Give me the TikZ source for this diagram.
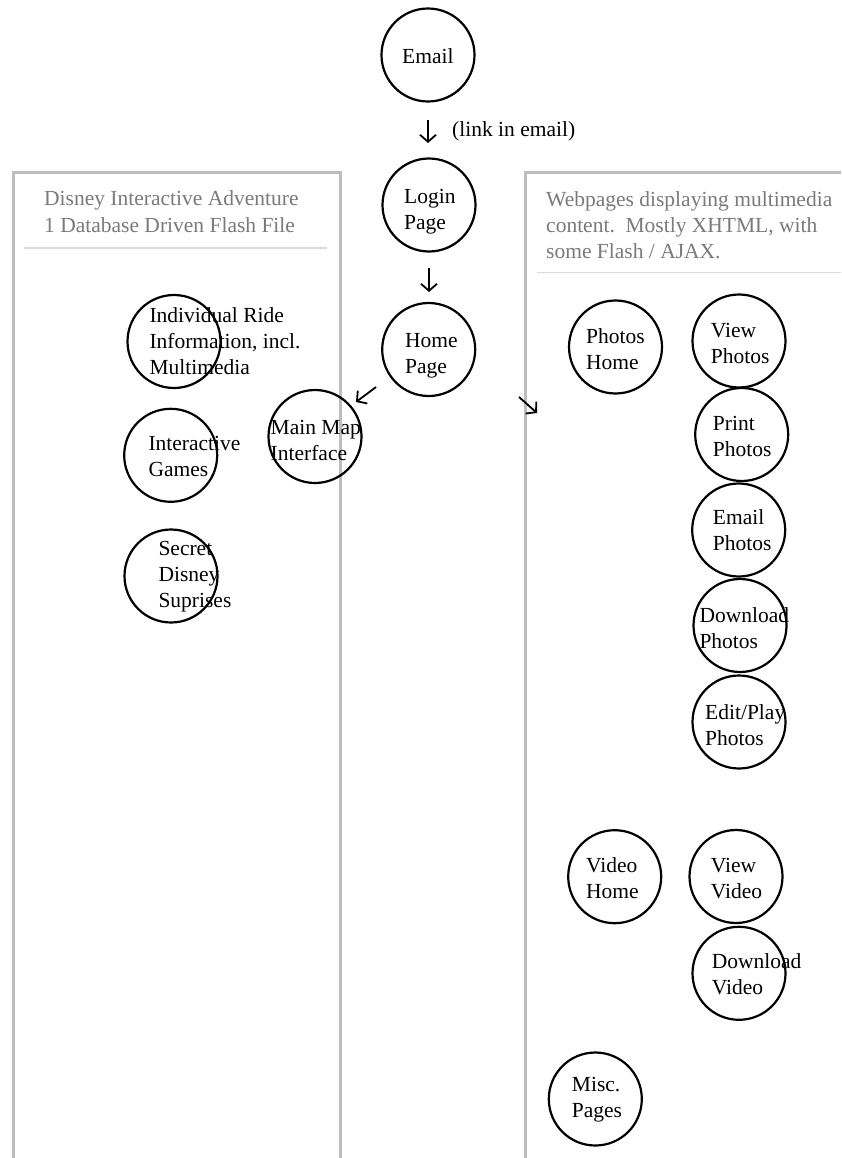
\documentclass[tikz,border=0pt]{standalone}
\usepackage{fontspec}
\setmainfont{Liberation Serif}
\usetikzlibrary{arrows.meta}
\definecolor{titlegray}{HTML}{7A7A7A}
\definecolor{panelgray}{HTML}{BDBDBD}
\definecolor{divgray}{HTML}{DCDCDC}
\tikzset{
  bubble/.style={draw, line width=2.2pt, circle, minimum size=93pt, inner sep=0pt},
  lbl/.style={anchor=base west, align=left, inner sep=0pt, font=\fontsize{21.5}{26.2}\selectfont},
  paneltitle/.style={lbl, text=titlegray},
  panel/.style={draw=panelgray, line width=2.7pt},
  divider/.style={draw=divgray, line width=1.6pt},
  flow/.style={line width=1.8pt, -{Straight Barb[length=7pt,width=16pt]}}
}
\begin{document}
\begin{tikzpicture}[x=1pt,y=-1pt]
\useasboundingbox (0,0) rectangle (841,1158);
\clip (0,0) rectangle (841,1158);
\fill[white] (0,0) rectangle (841,1158);

% panels
\draw[panel] (13.5,1170) -- (13.5,172.5) -- (340.7,172.5) -- (340.7,1170);
\draw[panel] (525.5,1170) -- (525.5,172.5) -- (850,172.5);
\draw[divider] (24,248) -- (327,248);
\draw[divider] (537,272.5) -- (850,272.5);

% (anchor = baseline of the last line)
\node[paneltitle] (ltitle) at (44,232.2) {Disney Interactive Adventure\\1 Database Driven Flash File};
\node[paneltitle] (rtitle) at (546,258.4) {Webpages displaying multimedia\\content.\ \ Mostly XHTML, with\\some Flash / AJAX.};

% central flow
\node[bubble] (email) at (428,55) {};
\node[lbl] (emailT) at (402,64) {Email};
\node[bubble] (login) at (429,205) {};
\node[lbl] (loginT) at (404,229.2) {Login\\Page};
\node[bubble] (home) at (428.7,349.5) {};
\node[lbl] (homeT) at (405,373.2) {Home\\Page};

\coordinate (a1s) at (428,120);
\coordinate (a1e) at (428,143);
\draw[flow] (a1s) -- (a1e);
\node[lbl] (linkT) at (452,137) {(link in email)};
\coordinate (a2s) at (429,268);
\coordinate (a2e) at (429,292);
\draw[flow] (a2s) -- (a2e);
\coordinate (a3s) at (376,387);
\coordinate (a3e) at (356,402);
\draw[flow] (a3s) -- (a3e);
\coordinate (a4s) at (519,397);
\coordinate (a4e) at (537,413);
\draw[flow] (a4s) -- (a4e);

% left panel
\node[bubble] (ride) at (174,341.5) {};
\node[lbl] (rideT) at (149.3,374.4) {Individual Ride\\Information, incl.\\Multimedia};
\node[bubble] (games) at (170.7,455.3) {};
\node[lbl] (gamesT) at (148.3,476.2) {Interactive\\Games};
\node[bubble] (secret) at (171,576) {};
\node[lbl] (secretT) at (158.3,607.4) {Secret\\Disney\\Suprises};
\node[bubble] (map) at (315,436.5) {};
\node[lbl] (mapT) at (270.5,460.5) {Main Map\\Interface};

% right panel
\node[bubble] (phome) at (615.5,347) {};
\node[lbl] (phomeT) at (586,369.2) {Photos\\Home};
\node[bubble] (pview) at (739,341) {};
\node[lbl] (pviewT) at (710.7,363.2) {View\\Photos};
\node[bubble] (pprint) at (741.7,434.5) {};
\node[lbl] (pprintT) at (712.7,456.2) {Print\\Photos};
\node[bubble] (pemail) at (738.7,530) {};
\node[lbl] (pemailT) at (712.7,550.2) {Email\\Photos};
\node[bubble] (pdown) at (740,625.5) {};
\node[lbl] (pdownT) at (699.3,648.2) {Download\\Photos};
\node[bubble] (pedit) at (739,722) {};
\node[lbl] (peditT) at (705,745.2) {Edit/Play\\Photos};
\node[bubble] (vhome) at (614.7,876.7) {};
\node[lbl] (vhomeT) at (586,898.2) {Video\\Home};
\node[bubble] (vview) at (736,876.5) {};
\node[lbl] (vviewT) at (710.7,898.2) {View\\Video};
\node[bubble] (vdown) at (739,973.3) {};
\node[lbl] (vdownT) at (711.7,994.2) {Download\\Video};
\node[bubble] (misc) at (595.3,1099) {};
\node[lbl] (miscT) at (571.7,1117.2) {Misc.\\Pages};
\end{tikzpicture}
\end{document}
